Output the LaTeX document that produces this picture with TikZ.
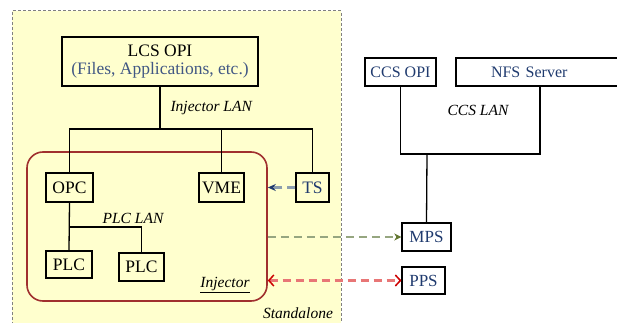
\documentclass[tikz,border=0pt]{standalone}
\usepackage{fontspec}
\setmainfont{Liberation Serif}
\usetikzlibrary{arrows.meta,calc}

\definecolor{navy}{RGB}{31,58,110}
\definecolor{paleyellow}{RGB}{255,255,206}
\definecolor{injred}{RGB}{160,48,47}
\definecolor{dashgreen}{RGB}{150,166,128}
\definecolor{tipgreen}{RGB}{100,120,50}
\definecolor{dashred}{RGB}{232,118,118}
\definecolor{dashblue}{RGB}{140,158,174}

\begin{document}
\begin{tikzpicture}[x=1pt, y=-1pt,
    unit/.style={draw, line width=1.3pt, inner sep=0pt, font={\fontsize{17.5}{20}\selectfont}},
    ccsunit/.style={unit, text=navy, font={\fontsize{16}{19}\selectfont}},
    lan/.style={font={\fontsize{15.5}{18}\selectfont\itshape}},
    link/.style={line width=1.3pt},
    dasharrow/.style={line width=2.3pt, dash pattern=on 8pt off 5pt}
]
    \useasboundingbox (0,0) rectangle (617,323);
    % standalone area
    \fill[paleyellow] (12,11) rectangle (341,335);
    \draw[gray, line width=1pt, dash pattern=on 3pt off 2pt] (12,335) -- (12,11) -- (341,11) -- (341,335);

    \node[unit, minimum width=196, minimum height=49, align=center] (lcs) at (160,61.5)
        {LCS OPI\\[-2pt]{\color{navy!85}(Files, Applications, etc.)}};
    \node[draw=injred, line width=1.6pt, rounded corners=16pt, minimum width=240, minimum height=149] (inj) at (147,226.5) {};

    \node[unit, minimum width=47, minimum height=29] (opc) at (69.5,187.5) {OPC};
    \node[unit, minimum width=45, minimum height=29] (vme) at (221.5,187.5) {VME};
    \node[unit, text=navy, minimum width=33, minimum height=29] (ts) at (312.5,187.5) {TS};
    \node[unit, minimum width=46, minimum height=27] (plca) at (69,264.5) {PLC};
    \node[unit, minimum width=45, minimum height=28] (plcb) at (141.5,267) {PLC};

    \node[ccsunit, minimum width=71, minimum height=28] (ccsopi) at (400.5,72) {CCS OPI};
    \node[ccsunit, minimum width=178, minimum height=28, text width=160, align=left] (nfs) at (545,72) {\hspace*{26pt}NFS Server};
    \node[ccsunit, font={\fontsize{17}{20}\selectfont}, minimum width=49, minimum height=28] (mps) at (426.5,237) {MPS};
    \node[ccsunit, font={\fontsize{17}{20}\selectfont}, minimum width=43, minimum height=27] (pps) at (423.5,280.5) {PPS};

    \coordinate (injbus) at (160,129);
    \coordinate (plcbus) at (70,227);
    \coordinate (ccsbus) at (427,154);

    % Injector LAN
    \draw[link] (lcs.south) -- (lcs.south |- injbus);
    \draw[link] (opc.north) |- (ts.north |- injbus) -- (ts.north);
    \draw[link] (vme.north) -- (vme.north |- injbus);
    % PLC LAN
    \draw[link] (opc.south) -- (plca.north);
    \draw[link] (plcbus) -| (plcb.north);
    % CCS LAN
    \draw[link] (ccsopi.south) |- (ccsbus) -| (nfs.south -| 540,0);
    \draw[link] (mps.north) -- (ccsbus);

    \node[lan, anchor=west] (injlan) at (167,108) {Injector LAN};
    \node[lan] (plclan) at (133,218) {PLC LAN};
    \node[lan] (ccslan) at (478,110) {CCS LAN};
    \node[lan] (injlabel) at (225,285) {\underline{Injector}};
    \node[lan] (standalone) at (298,313) {Standalone};

    % interlocks
    \draw[dasharrow, dashblue, -{Stealth[length=8pt, width=7pt, navy]}] (ts.west) -- (inj.east |- ts.west);
    \draw[dasharrow, dashgreen, -{Stealth[length=7pt, width=7pt, inset=2pt, tipgreen]}] (inj.east |- mps.west) -- (mps.west);
    \draw[dasharrow, dashred, {Straight Barb[length=5pt, width=11pt, red!80!black, line width=1.5pt]}-{Straight Barb[length=5pt, width=11pt, red!80!black, line width=1.5pt]}] (inj.east |- pps.west) -- (pps.west);
\end{tikzpicture}
\end{document}
